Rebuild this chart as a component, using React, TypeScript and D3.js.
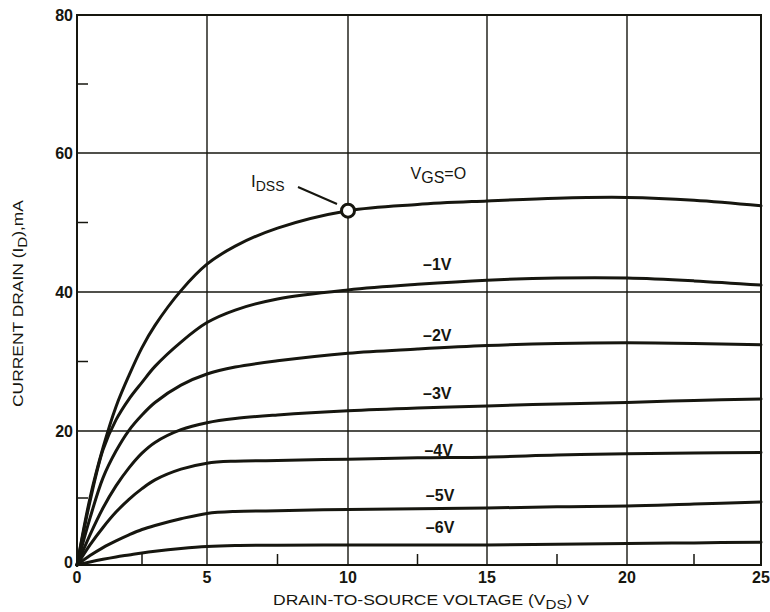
import React from "react";
import * as d3 from "d3";

// ---- data ----
const VDS = [0, 0.5, 1, 1.5, 2, 2.5, 3, 4, 5, 6, 7.5, 10, 12.5, 15, 17.5, 20, 22.5, 25];
const ID_VGS0 = [0, 10, 17.5, 23.5, 28, 32, 35.2, 40.2, 44, 46.6, 49.2, 51.7, 52.6, 53.1, 53.5, 53.6, 53.2, 52.4];
const ID_VGS1 = [0, 9.5, 17.2, 21.6, 24.6, 27, 29.3, 32.8, 35.6, 37.4, 39, 40.3, 41.1, 41.7, 42, 42, 41.6, 41];
const ID_VGS2 = [0, 7, 13, 17, 20.1, 22.3, 24.1, 26.6, 28.2, 29.2, 30.1, 31.2, 31.8, 32.3, 32.6, 32.7, 32.6, 32.4];
const ID_VGS3 = [0, 4.5, 8.5, 11.8, 14.5, 16.7, 18.3, 20.2, 21.2, 21.8, 22.3, 22.9, 23.3, 23.6, 23.9, 24.1, 24.4, 24.6];
const ID_VGS4 = [0, 3, 5.6, 7.9, 9.8, 11.4, 12.7, 14.3, 15.2, 15.5, 15.6, 15.8, 16, 16.1, 16.4, 16.6, 16.7, 16.8];
const ID_VGS5 = [0, 1.4, 2.6, 3.6, 4.5, 5.3, 5.9, 6.9, 7.7, 8, 8.1, 8.3, 8.4, 8.5, 8.7, 8.8, 9.1, 9.4];
const ID_VGS6 = [0, 0.45, 0.85, 1.2, 1.5, 1.8, 2.05, 2.45, 2.75, 2.9, 2.95, 3, 3, 3, 3.1, 3.2, 3.3, 3.4];
const SERIES = [ID_VGS0, ID_VGS1, ID_VGS2, ID_VGS3, ID_VGS4, ID_VGS5, ID_VGS6];

const CURVE_LABELS = ["–1V", "–2V", "–3V", "–4V", "–5V", "–6V"];
// label anchor (VDS, ID) for each curve label above
const LABEL_X = [12.7, 12.7, 12.7, 12.75, 12.8, 12.8];
const LABEL_Y = [43.1, 32.9, 24.6, 16.2, 9.6, 4.8];

const X_TICKS = [0, 5, 10, 15, 20, 25];
const Y_TICKS = [0, 20, 40, 60, 80];
const X_MINOR = [2.5, 7.5, 12.5, 17.5, 22.5];
const Y_MINOR = [10, 30, 50, 70];

const IDSS_POINT = { v: 10, i: 51.7 };

// ---- layout ----
const W = 770;
const H = 612;
const FONT = "'Liberation Sans', Arial, Helvetica, sans-serif";
const INK = "#16160f";

export default function App() {
  // piecewise scales follow the scanned grid positions
  const x = d3.scaleLinear().domain([0, 5, 10, 15, 20, 25]).range([77, 207, 348, 487, 627, 761]);
  const y = d3.scaleLinear().domain([0, 20, 40, 60, 80]).range([565, 431, 292, 153, 15]);

  const line = d3
    .line<number>()
    .x((_, i) => x(VDS[i]))
    .y((d) => y(d))
    .curve(d3.curveCatmullRom.alpha(0.5));

  const x0 = x(0), x1 = x(25), y0 = y(0), y1 = y(80);

  return (
    <div style={{ position: "absolute", left: 0, top: 0 }}>
      <svg width={W} height={H} style={{ display: "block", background: "#fff" }} fontFamily={FONT}>
        <rect width={W} height={H} fill="#fff" />
        {/* grid */}
        {X_TICKS.slice(1, -1).map((t) => (
          <line key={"gx" + t} x1={x(t)} x2={x(t)} y1={y1} y2={y0} stroke={INK} strokeWidth={1.4} />
        ))}
        {Y_TICKS.slice(1, -1).map((t) => (
          <line key={"gy" + t} x1={x0} x2={x1} y1={y(t)} y2={y(t)} stroke={INK} strokeWidth={1.4} />
        ))}
        {/* minor ticks */}
        {X_MINOR.map((t) => (
          <line key={"mx" + t} x1={x(t)} x2={x(t)} y1={y0} y2={y0 - 11} stroke={INK} strokeWidth={1.5} />
        ))}
        {Y_MINOR.map((t) => (
          <line key={"my" + t} x1={x0} x2={x0 + 11} y1={y(t)} y2={y(t)} stroke={INK} strokeWidth={1.5} />
        ))}
        {/* frame */}
        <rect x={x0} y={y1} width={x1 - x0} height={y0 - y1} fill="none" stroke={INK} strokeWidth={2} />

        {/* curves */}
        {SERIES.map((s, k) => (
          <path key={"c" + k} d={line(s) || ""} fill="none" stroke={INK} strokeWidth={3} strokeLinecap="round" strokeLinejoin="round" />
        ))}

        {/* IDSS marker */}
        <line x1={298} x2={337} y1={187} y2={204} stroke={INK} strokeWidth={2} />
        <circle cx={x(IDSS_POINT.v)} cy={y(IDSS_POINT.i)} r={6.5} fill="#fff" stroke={INK} strokeWidth={3} />
        <text x={251} y={187} fill={INK} fontSize={17}>
          I<tspan fontSize={14} dy={4}>DSS</tspan>
        </text>

        {/* curve labels */}
        <text x={x(12.25)} y={y(56.2)} fill={INK} fontSize={16}>
          V<tspan dy={4}>GS</tspan>
          <tspan dy={-4}>=O</tspan>
        </text>
        {CURVE_LABELS.map((l, k) => (
          <text key={"l" + k} x={x(LABEL_X[k])} y={y(LABEL_Y[k])} fill={INK} fontSize={16} fontWeight="bold">
            {l}
          </text>
        ))}

        {/* tick labels */}
        {Y_TICKS.map((t) => (
          <text key={"ty" + t} x={x0 - 4} y={y(t) + (t === 0 ? 3 : 6)} textAnchor="end" fill={INK} fontSize={16} fontWeight="bold">
            {t}
          </text>
        ))}
        {X_TICKS.map((t) => (
          <text key={"tx" + t} x={x(t)} y={583} textAnchor="middle" fill={INK} fontSize={16} fontWeight="bold">
            {t}
          </text>
        ))}

        {/* axis titles */}
        <text x={273} y={605} fill={INK} fontSize={15} textLength={316} lengthAdjust="spacingAndGlyphs">
          DRAIN-TO-SOURCE VOLTAGE (V<tspan dy={4} fontSize={13}>DS</tspan>
          <tspan dy={-4}>) V</tspan>
        </text>
        <text transform="translate(23,407) rotate(-90)" fill={INK} fontSize={15} textLength={207} lengthAdjust="spacingAndGlyphs">
          CURRENT DRAIN (I<tspan dy={4} fontSize={13}>D</tspan>
          <tspan dy={-4}>),mA</tspan>
        </text>
      </svg>
    </div>
  );
}
